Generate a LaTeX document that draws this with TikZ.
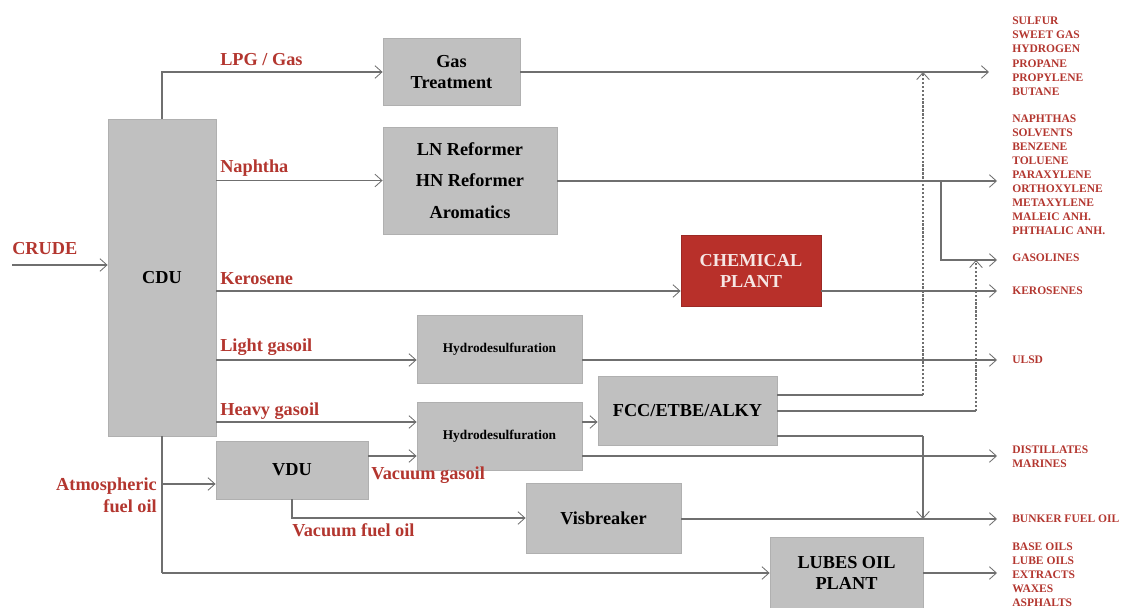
\documentclass[tikz,border=0pt]{standalone}
\usepackage{fontspec}
\setmainfont{Liberation Serif}
\usetikzlibrary{arrows.meta}

\definecolor{flow}{HTML}{6F6F6F}
\definecolor{boxgray}{HTML}{C0C0C0}
\definecolor{boxedge}{HTML}{B0B0B0}
\definecolor{labelred}{HTML}{B3362F}
\definecolor{plantred}{HTML}{B8302A}
\definecolor{planttext}{HTML}{F6E6E4}

\tikzset{
  unit/.style={draw=boxedge, fill=boxgray, line width=0.6pt, inner sep=0pt,
    align=center, font=\bfseries\fontsize{13}{16}\selectfont},
  size/.style 2 args={minimum width=#1, minimum height=#2},
  smallunit/.style={unit, font=\bfseries\fontsize{9.5}{11}\selectfont},
  plant/.style={unit, fill=plantred, draw=plantred!85!black, text=planttext},
  flowline/.style={draw=flow, line width=0.8pt},
  feed/.style={flowline, -{Straight Barb[length=5pt,width=9pt,line width=0.6pt]}},
  recycle/.style={feed, dash pattern=on 1.6pt off 1.2pt},
  stream/.style={text=labelred, inner sep=0pt, anchor=west,
    font=\bfseries\fontsize{13}{15.5}\selectfont},
  product/.style={text=labelred, inner sep=0pt, anchor=north west, align=left,
    font=\bfseries\fontsize{8.2}{9.95}\selectfont},
}

\begin{document}
\begin{tikzpicture}[x=0.25mm, y=-0.25mm]
\useasboundingbox (0,0) rectangle (1122,607);

% ---------- process units ----------
\node[unit, size={27mm}{79.25mm}] (cdu) at (162,277.5) {CDU};
\node[unit, size={34.25mm}{16.75mm}, font=\bfseries\fontsize{13}{14.5}\selectfont] (gas) at (451.5,72) {Gas\\Treatment};
\node[unit, size={43.5mm}{26.75mm}, font=\bfseries\fontsize{13}{22.4}\selectfont] (ref) at (470,180.5) {LN Reformer\\HN Reformer\\Aromatics};
\node[plant, size={35mm}{17.75mm}, font=\bfseries\fontsize{13}{15}\selectfont] (chem) at (751,270.5) {CHEMICAL\\PLANT};
\node[smallunit, size={41.25mm}{17mm}] (hds1) at (499.5,349) {Hydrodesulfuration};
\node[smallunit, size={41.25mm}{17mm}] (hds2) at (499.5,436) {Hydrodesulfuration};
\node[unit, size={44.75mm}{17.25mm}] (fcc) at (687.5,410.5) {FCC/ETBE/ALKY};
\node[unit, size={38mm}{14.5mm}] (vdu) at (292,470) {VDU};
\node[unit, size={38.75mm}{17.5mm}] (visb) at (603.5,518) {Visbreaker};
\node[unit, size={38.25mm}{18mm}, font=\bfseries\fontsize{13}{15}\selectfont] (lube) at (846.5,573) {LUBES OIL\\PLANT};

% ---------- stream labels ----------
\node[stream] (lcrude) at (12,249) {CRUDE};
\node[stream] (llpg) at (220,60) {LPG / Gas};
\node[stream] (lnap) at (220,168) {Naphtha};
\node[stream] (lker) at (220,279) {Kerosene};
\node[stream] (llgo) at (220,347) {Light gasoil};
\node[stream] (lhgo) at (220,411) {Heavy gasoil};
\node[stream, anchor=east, align=right] (lafo) at (157,495) {Atmospheric\\fuel oil};
\node[stream] (lvgo) at (371,475) {Vacuum gasoil};
\node[stream] (lvfo) at (292,530) {Vacuum fuel oil};

% ---------- products ----------
\node[product, font=\bfseries\fontsize{8.2}{10.1}\selectfont] (pgas) at (1012,16.5) {SULFUR\\SWEET GAS\\HYDROGEN\\PROPANE\\PROPYLENE\\BUTANE};
\node[product] (parom) at (1012,115) {NAPHTHAS\\SOLVENTS\\BENZENE\\TOLUENE\\PARAXYLENE\\ORTHOXYLENE\\METAXYLENE\\MALEIC ANH.\\PHTHALIC ANH.};
\node[product] (pgasoline) at (1012,254) {GASOLINES};
\node[product] (pkero) at (1012,287) {KEROSENES};
\node[product] (pulsd) at (1012,356) {ULSD};
\node[product] (pdist) at (1012,446) {DISTILLATES\\MARINES};
\node[product] (pbunker) at (1012,515) {BUNKER FUEL OIL};
\node[product, font=\bfseries\fontsize{8.2}{9.8}\selectfont] (plube) at (1012,543) {BASE OILS\\LUBE OILS\\EXTRACTS\\WAXES\\ASPHALTS};

% ---------- free ends and junctions ----------
\coordinate (crudein) at (12,265);
\coordinate (outgas) at (989,72);
\coordinate (outarom) at (997,181);
\coordinate (outgasoline) at (997,260);
\coordinate (outkero) at (997,291);
\coordinate (outulsd) at (997,360);
\coordinate (outdist) at (997,456);
\coordinate (outbunker) at (997,519);
\coordinate (outlube) at (997,573);
\coordinate (jblend) at (941,181);
\coordinate (jlight) at (923,395);
\coordinate (jgasol) at (976,411);
\coordinate (jheavy) at (923,436);

% ---------- feeds ----------
\draw[feed] (crudein) -- (cdu.west |- crudein);
\draw[feed] (cdu.north) |- (gas.west |- outgas);
\draw[feed] (cdu.east |- ref.west) -- (ref.west);
\draw[feed] (cdu.east |- outkero) -- (chem.west |- outkero);
\draw[feed] (cdu.east |- outulsd) -- (hds1.west |- outulsd);
\draw[feed] (cdu.east |- 0,422) -- (hds2.west |- 0,422);
\draw[flowline] (cdu.south) -- (cdu.south |- outlube);
\draw[feed] (cdu.south |- outlube) -- (lube.west |- outlube);
\draw[feed] (cdu.south |- 0,484) -- (vdu.west |- 0,484);
\draw[feed] (vdu.east |- outdist) -- (hds2.west |- outdist);
\draw[feed] (vdu.south) |- (visb.west);
\draw[feed] (hds2.east |- 0,422) -- (fcc.west |- 0,422);

% ---------- products out ----------
\draw[feed] (gas.east |- outgas) -- (outgas);
\draw[feed] (ref.east |- outarom) -- (outarom);
\draw[feed] (jblend) |- (outgasoline);
\draw[feed] (chem.east |- outkero) -- (outkero);
\draw[feed] (hds1.east |- outulsd) -- (outulsd);
\draw[feed] (hds2.east |- outdist) -- (outdist);
\draw[feed] (visb.east |- outbunker) -- (outbunker);
\draw[feed] (lube.east |- outlube) -- (outlube);

% ---------- FCC/ETBE/ALKY outlets ----------
\draw[flowline] (fcc.east |- jlight) -- (jlight);
\draw[recycle] (jlight) -- (jlight |- outgas);
\draw[flowline] (fcc.east |- jgasol) -- (jgasol);
\draw[recycle] (jgasol) -- (jgasol |- outgasoline);
\draw[flowline] (fcc.east |- jheavy) -- (jheavy);
\draw[feed] (jheavy) -- (jheavy |- outbunker);
\end{tikzpicture}
\end{document}
